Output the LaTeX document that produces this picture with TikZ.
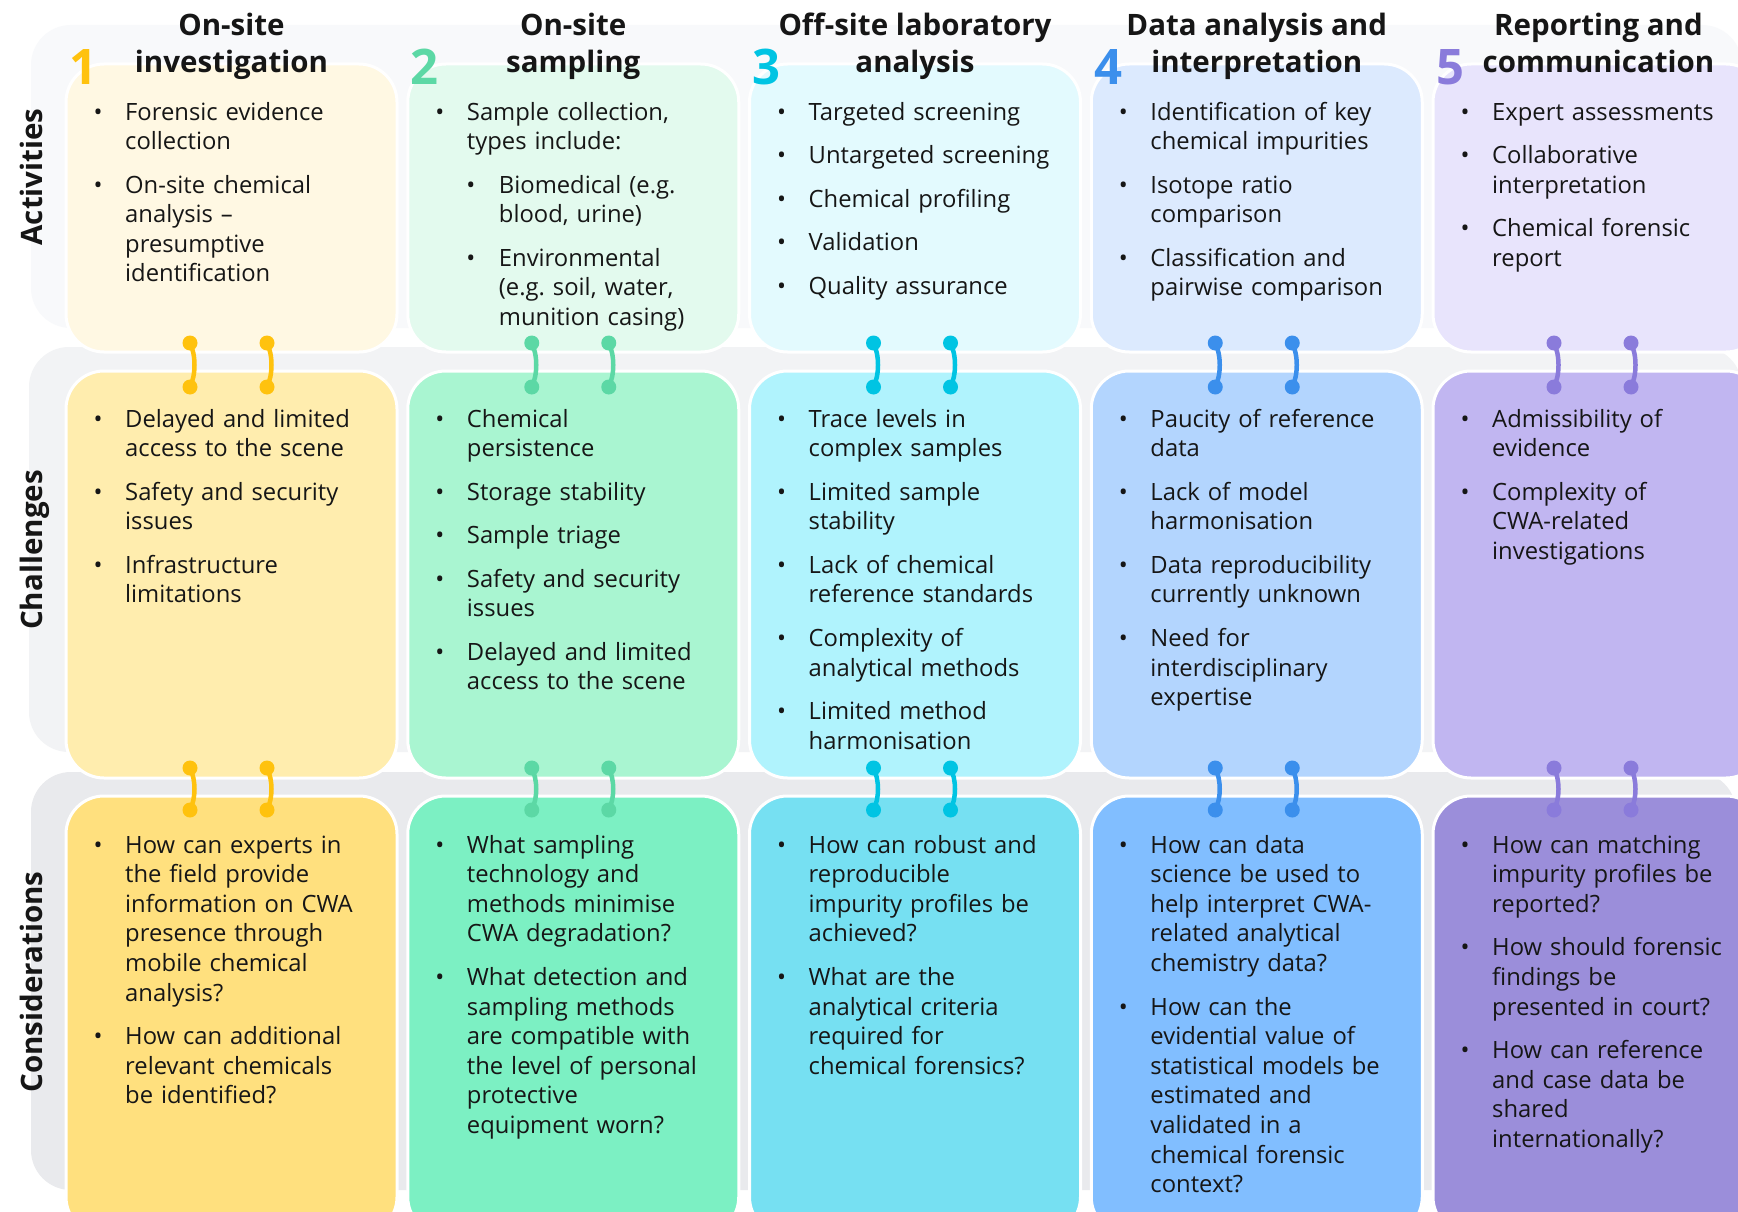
\documentclass[tikz,border=0pt]{standalone}
\usepackage{fontspec}
\setmainfont{Open Sans}
\usetikzlibrary{calc}
\setlength\parskip{0pt}
\frenchspacing
\definecolor{txt}{HTML}{161616}
\definecolor{bandA}{HTML}{F8F9FB}
\definecolor{bandB}{HTML}{F2F3F5}
\definecolor{bandC}{HTML}{E9EAED}
% accents
\definecolor{acc1}{HTML}{FFC20E}
\definecolor{acc2}{HTML}{5CD8A5}
\definecolor{acc3}{HTML}{00C4E3}
\definecolor{acc4}{HTML}{3B8FEC}
\definecolor{acc5}{HTML}{8A7BDB}
% activities fills
\definecolor{fa1}{HTML}{FFF8E3}
\definecolor{fa2}{HTML}{E3FAEE}
\definecolor{fa3}{HTML}{E3FAFE}
\definecolor{fa4}{HTML}{DCEAFE}
\definecolor{fa5}{HTML}{E8E4FC}
% challenges fills
\definecolor{fb1}{HTML}{FFEDAE}
\definecolor{fb2}{HTML}{A9F5D1}
\definecolor{fb3}{HTML}{B0F3FD}
\definecolor{fb4}{HTML}{B3D5FE}
\definecolor{fb5}{HTML}{C1B6F1}
% considerations fills
\definecolor{fc1}{HTML}{FFE07E}
\definecolor{fc2}{HTML}{7CF0C3}
\definecolor{fc3}{HTML}{76E0F2}
\definecolor{fc4}{HTML}{81BEFF}
\definecolor{fc5}{HTML}{9B8EDA}
\newcommand\bi[1]{\par{\let\\\newline\hangindent=27pt\hangafter=1\noindent\makebox[27pt][l]{\makebox[0pt]{\textbullet}}\strut#1\strut\par}\vspace{13.9pt}}
\newcommand\si[1]{\par{\let\\\newline\hangindent=59pt\hangafter=1\noindent\hspace*{31pt}\makebox[28pt][l]{\makebox[0pt]{\textbullet}}\strut#1\strut\par}\vspace{13.9pt}}
\begin{document}
\begin{tikzpicture}[x=1pt,y=-1pt,
  cbox/.style={rectangle, rounded corners=38pt, draw=white, line width=3pt, minimum width=331pt, inner sep=0pt},
  lbl/.style={font=\fontsize{29.5}{36}\selectfont\bfseries, rotate=90, text=txt, anchor=base, inner sep=0pt},
  hdr/.style={font=\fontsize{29.5}{36}\selectfont\bfseries, text=txt, anchor=base, inner sep=0pt},
  num/.style={font=\fontsize{49}{55}\selectfont\bfseries, anchor=base west, inner sep=0pt},
  body/.style={anchor=north west, inner sep=0pt, text width=300pt, text=txt, font=\fontsize{23.8}{29.6}\selectfont\frenchspacing},
  conn/.style={line width=4.5pt, line cap=round}]
\useasboundingbox (0,0) rectangle (1738,1212);
\clip (0,0) rectangle (1738,1212);
\fill[white] (0,0) rectangle (1738,1212);
% row bands
\fill[bandA, rounded corners=40pt] (31,25) rectangle (1742,328);
\fill[bandB, rounded corners=40pt] (29,347) rectangle (1742,752);
\fill[bandC, rounded corners=40pt] (31,772) rectangle (1736,1190);
% row labels
\node[lbl] (labA) at (42,177) {Activities};
\node[lbl] (labB) at (42,550) {Challenges};
\node[lbl] (labC) at (42,982) {Considerations};
% boxes
\foreach \i in {1,...,5} {
  \pgfmathsetmacro\L{66+341.75*(\i-1)}
  \node[cbox, fill=fa\i, minimum height=288pt] (act\i) at (\L+165.5,208) {};
  \node[cbox, fill=fb\i, minimum height=407pt] (cha\i) at (\L+165.5,574.5) {};
  \node[cbox, fill=fc\i, minimum height=439pt] (con\i) at (\L+165.5,1015.5) {};
  \node[num, text=acc\i] (num\i) at (\L+3,85) {\i};
}
% connectors
\foreach \i in {1,...,5} {
  \pgfmathsetmacro\L{66+341.75*(\i-1)-(\i==5)*3}
  \foreach \o/\k in {124/a,201/b} {
    \coordinate (u\k\i) at (\L+\o,343);
    \coordinate (v\k\i) at (\L+\o,387);
    \coordinate (p\k\i) at (\L+\o,768);
    \coordinate (q\k\i) at (\L+\o,810);
    \draw[conn, acc\i] (u\k\i) .. controls +(6,12) and +(6,-12) .. (v\k\i);
    \draw[conn, acc\i] (p\k\i) .. controls +(6,12) and +(6,-12) .. (q\k\i);
    \fill[acc\i] (u\k\i) circle (7.5pt) (v\k\i) circle (7.5pt) (p\k\i) circle (7.5pt) (q\k\i) circle (7.5pt);
  }
}
% headers
\node[hdr] (h1a) at (231.5,36) {On-site};
\node[hdr] (h1b) at (231.5,73) {investigation};
\node[hdr] (h2a) at (573.25,36) {On-site};
\node[hdr] (h2b) at (573.25,73) {sampling};
\node[hdr] (h3a) at (915,36) {Off-site laboratory};
\node[hdr] (h3b) at (915,73) {analysis};
\node[hdr] (h4a) at (1256.75,36) {Data analysis and};
\node[hdr] (h4b) at (1256.75,73) {interpretation};
\node[hdr] (h5a) at (1598.5,36) {Reporting and};
\node[hdr] (h5b) at (1598.5,73) {communication};
% activities texts
\node[body] (ta1) at (98,90.3) {\bi{Forensic evidence\\collection}\bi{On-site chemical\\analysis –\\presumptive\\identification}};
\node[body] (ta2) at (439.75,90.3) {\bi{Sample collection,\\types include:}\si{Biomedical (e.g.\\blood, urine)}\si{Environmental\\(e.g.\ soil, water,\\munition casing)}};
\node[body] (ta3) at (781.5,90.3) {\bi{Targeted screening}\bi{Untargeted screening}\bi{Chemical profiling}\bi{Validation}\bi{Quality assurance}};
\node[body] (ta4) at (1123.25,90.3) {\bi{Identification of key\\chemical impurities}\bi{Isotope ratio\\comparison}\bi{Classification and\\pairwise comparison}};
\node[body] (ta5) at (1465,90.3) {\bi{Expert assessments}\bi{Collaborative\\interpretation}\bi{Chemical forensic\\report}};
% challenges texts
\node[body] (tb1) at (98,397.3) {\bi{Delayed and limited\\access to the scene}\bi{Safety and security\\issues}\bi{Infrastructure\\limitations}};
\node[body] (tb2) at (439.75,397.3) {\bi{Chemical\\persistence}\bi{Storage stability}\bi{Sample triage}\bi{Safety and security\\issues}\bi{Delayed and limited\\access to the scene}};
\node[body] (tb3) at (781.5,397.3) {\bi{Trace levels in\\complex samples}\bi{Limited sample\\stability}\bi{Lack of chemical\\reference standards}\bi{Complexity of\\analytical methods}\bi{Limited method\\harmonisation}};
\node[body] (tb4) at (1123.25,397.3) {\bi{Paucity of reference\\data}\bi{Lack of model\\harmonisation}\bi{Data reproducibility\\currently unknown}\bi{Need for\\interdisciplinary\\expertise}};
\node[body] (tb5) at (1465,397.3) {\bi{Admissibility of\\evidence}\bi{Complexity of\\CWA-related\\investigations}};
% considerations texts
\node[body] (tc1) at (98,823.3) {\bi{How can experts in\\the field provide\\information on CWA\\presence through\\mobile chemical\\analysis?}\bi{How can additional\\relevant chemicals\\be identified?}};
\node[body] (tc2) at (439.75,823.3) {\bi{What sampling\\technology and\\methods minimise\\CWA degradation?}\bi{What detection and\\sampling methods\\are compatible with\\the level of personal\\protective\\equipment worn?}};
\node[body] (tc3) at (781.5,823.3) {\bi{How can robust and\\reproducible\\impurity profiles be\\achieved?}\bi{What are the\\analytical criteria\\required for\\chemical forensics?}};
\node[body] (tc4) at (1123.25,823.3) {\bi{How can data\\science be used to\\help interpret CWA-\\related analytical\\chemistry data?}\bi{How can the\\evidential value of\\statistical models be\\estimated and\\validated in a\\chemical forensic\\context?}};
\node[body] (tc5) at (1465,823.3) {\bi{How can matching\\impurity profiles be\\reported?}\bi{How should forensic\\findings be\\presented in court?}\bi{How can reference\\and case data be\\shared\\internationally?}};
\end{tikzpicture}
\end{document}
